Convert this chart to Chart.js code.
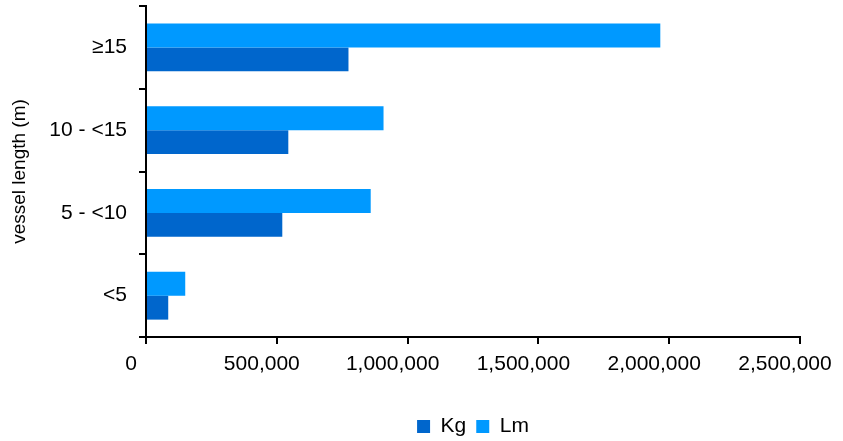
<!DOCTYPE html>
<html>
<head>
<meta charset="utf-8">
<script src="https://cdn.jsdelivr.net/npm/chart.js@4/dist/chart.umd.min.js"></script>
<style>
  html, body { margin: 0; padding: 0; background: #fff; }
  #wrap { width: 843px; height: 441px; }
</style>
</head>
<body>
<div id="wrap"><canvas id="c" width="843" height="441"></canvas></div>
<script>
const categories = ['≥15', '10 - <15', '5 - <10', '<5'];
const kgValues = [774000, 544000, 521000, 85000];
const lmValues = [1966000, 908000, 859000, 150000];
const xTicks = [0, 500000, 1000000, 1500000, 2000000, 2500000];
const seriesNames = ['Kg', 'Lm'];
const yTitle = 'vessel length (m)';

const FONT = '"Liberation Sans", Arial, Helvetica, sans-serif';
Chart.defaults.font.family = FONT;
Chart.defaults.color = '#000';

new Chart(document.getElementById('c'), {
  type: 'bar',
  data: {
    labels: categories,
    datasets: [
      { label: seriesNames[1], data: lmValues, backgroundColor: '#0099FF', borderWidth: 0,
        categoryPercentage: 0.58, barPercentage: 1.0 },
      { label: seriesNames[0], data: kgValues, backgroundColor: '#0066CC', borderWidth: 0,
        categoryPercentage: 0.58, barPercentage: 1.0 }
    ]
  },
  options: {
    indexAxis: 'y',
    responsive: false,
    animation: false,
    devicePixelRatio: 1,
    layout: { padding: { top: 6, right: 43, bottom: -6, left: 0 } },
    plugins: {
      tooltip: { enabled: false },
      legend: {
        position: 'bottom',
        fullSize: false,
        reverse: true,
        labels: {
          boxWidth: 13, boxHeight: 13, padding: 10,
          font: { size: 21, family: FONT }, color: '#000'
        }
      }
    },
    scales: {
      x: {
        min: 0, max: 2500000,
        afterBuildTicks: (s) => { s.ticks = xTicks.map(v => ({ value: v })); },
        afterFit: (s) => { s.height = 69; s.paddingLeft = 0; s.paddingRight = 0; },
        grid: { display: true, drawOnChartArea: false, drawTicks: true, tickLength: 7, color: '#000', lineWidth: 2 },
        border: { display: true, color: '#000', width: 2 },
        ticks: {
          padding: 8,
          labelOffset: -15,
          maxRotation: 0,
          autoSkip: false,
          font: { size: 21, family: FONT }, color: '#000',
          callback: (v) => Number(v).toLocaleString('en-US')
        }
      },
      y: {
        afterFit: (s) => { s.width = 146; s.paddingTop = 0; s.paddingBottom = 0; },
        grid: { display: true, drawOnChartArea: false, drawTicks: true, tickLength: 7, color: '#000', lineWidth: 2, offset: true },
        border: { display: true, color: '#000', width: 2 },
        ticks: { padding: 12, font: { size: 21, family: FONT }, color: '#000' },
        title: {
          display: true, text: yTitle,
          font: { size: 19, family: FONT }, color: '#000',
          padding: { top: 8, bottom: 0 }
        }
      }
    }
  }
});
</script>
</body>
</html>
